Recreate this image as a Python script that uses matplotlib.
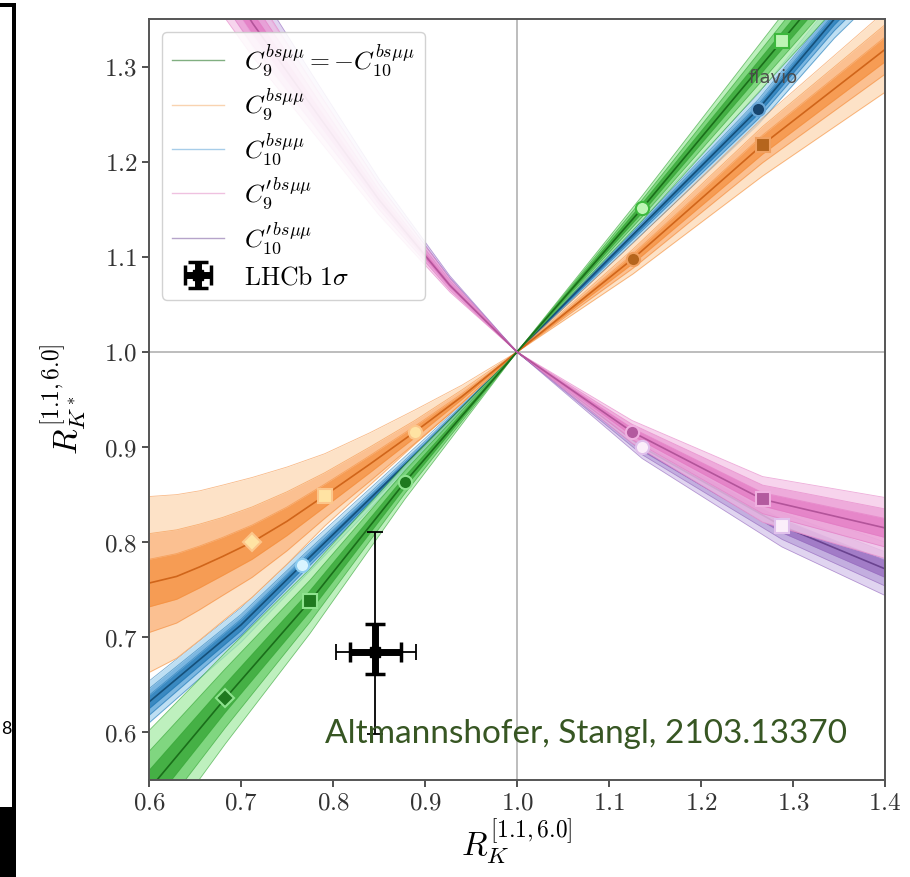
import matplotlib
matplotlib.use('Agg')
import matplotlib.pyplot as plt
from matplotlib.lines import Line2D
from matplotlib.patches import Rectangle
import numpy as np

plt.rcParams['mathtext.fontset'] = 'cm'
plt.rcParams['font.family'] = 'serif'
plt.rcParams['font.serif'] = ['DejaVu Serif']

# --- scenario curves: x = R_K, y = R_K*, band half widths ---
# C9 = -C10 (green)
g_x = [0.56, 0.60, 0.683, 0.775, 0.878, 1.00, 1.136, 1.288, 1.36]
g_y = [0.49, 0.54, 0.636, 0.738, 0.863, 1.00, 1.151, 1.327, 1.41]
g_w3 = [0.070, 0.062, 0.048, 0.034, 0.018, 0.0, 0.013, 0.027, 0.034]
g_w2 = [0.045, 0.040, 0.031, 0.022, 0.012, 0.0, 0.009, 0.018, 0.022]
g_w1 = [0.022, 0.020, 0.015, 0.011, 0.006, 0.0, 0.005, 0.009, 0.011]

# C9 (orange)
o_x = [0.60, 0.63, 0.655, 0.68, 0.712, 0.75, 0.791, 0.84, 0.889, 0.94, 1.00, 1.126, 1.267, 1.40]
o_y = [0.757, 0.764, 0.774, 0.785, 0.800, 0.822, 0.849, 0.882, 0.916, 0.953, 1.00, 1.098, 1.218, 1.318]
o_up3 = [0.091, 0.086, 0.080, 0.075, 0.068, 0.057, 0.044, 0.033, 0.023, 0.012, 0.0, 0.016, 0.028, 0.040]
o_lo3 = [0.094, 0.086, 0.077, 0.068, 0.058, 0.045, 0.032, 0.022, 0.013, 0.007, 0.0, 0.016, 0.033, 0.045]
o_w2 = [0.052, 0.049, 0.045, 0.041, 0.037, 0.031, 0.024, 0.018, 0.012, 0.007, 0.0, 0.010, 0.019, 0.026]
o_w1 = [0.025, 0.024, 0.022, 0.020, 0.018, 0.015, 0.012, 0.009, 0.006, 0.003, 0.0, 0.005, 0.010, 0.013]

# C10 (blue)
b_x = [0.60, 0.70, 0.766, 0.90, 1.00, 1.10, 1.262, 1.345, 1.40]
b_y = [0.632, 0.713, 0.776, 0.902, 1.00, 1.098, 1.255, 1.35, 1.405]
b_w3 = [0.022, 0.018, 0.015, 0.007, 0.0, 0.007, 0.016, 0.020, 0.023]
b_w2 = [0.014, 0.011, 0.009, 0.004, 0.0, 0.004, 0.010, 0.012, 0.014]
b_w1 = [0.007, 0.006, 0.005, 0.002, 0.0, 0.002, 0.005, 0.006, 0.007]

# C9' (pink)
p_x = [0.65, 0.713, 0.783, 0.85, 0.927, 1.00, 1.125, 1.267, 1.40]
p_y = [1.44, 1.345, 1.25, 1.16, 1.07, 1.00, 0.916, 0.845, 0.815]
p_w3 = [0.045, 0.035, 0.025, 0.016, 0.007, 0.0, 0.012, 0.024, 0.032]
p_w2 = [0.030, 0.023, 0.016, 0.010, 0.005, 0.0, 0.008, 0.015, 0.020]
p_w1 = [0.015, 0.011, 0.008, 0.005, 0.002, 0.0, 0.004, 0.007, 0.010]

# C10' (purple)
v_x = [0.65, 0.713, 0.783, 0.85, 0.927, 1.00, 1.136, 1.288, 1.40]
v_y = [1.46, 1.355, 1.258, 1.166, 1.073, 1.00, 0.900, 0.817, 0.772]
v_w3 = [0.045, 0.035, 0.025, 0.016, 0.007, 0.0, 0.012, 0.022, 0.028]
v_w2 = [0.030, 0.023, 0.016, 0.010, 0.005, 0.0, 0.008, 0.014, 0.018]
v_w1 = [0.015, 0.011, 0.008, 0.005, 0.002, 0.0, 0.004, 0.007, 0.009]

# benchmark markers on the curves
g_mx = [0.683, 0.775, 0.878, 1.136, 1.288]
g_my = [0.636, 0.738, 0.863, 1.151, 1.327]
g_mk = ['D', 's', 'o', 'o', 's']
g_dark = [1, 1, 1, 0, 0]

o_mx = [0.712, 0.791, 0.889, 1.126, 1.267]
o_my = [0.800, 0.849, 0.916, 1.098, 1.218]
o_mk = ['D', 's', 'o', 'o', 's']
o_dark = [0, 0, 0, 1, 1]

b_mx = [0.766, 1.262]
b_my = [0.776, 1.255]
b_mk = ['o', 'o']
b_dark = [0, 1]

p_mx = [1.125, 1.267]
p_my = [0.916, 0.845]
p_mk = ['o', 's']
p_dark = [1, 1]

v_mx = [1.136, 1.288]
v_my = [0.900, 0.817]
v_mk = ['o', 's']
v_dark = [0, 0]

# LHCb measurement
lhcb_x = 0.846
lhcb_y = 0.685
lhcb_xerr_tot = [0.043, 0.044]
lhcb_yerr_tot = [0.087, 0.126]
lhcb_xerr_in = [0.028, 0.028]
lhcb_yerr_in = [0.024, 0.029]

labels = [r"$C_9^{bs\mu\mu}=-C_{10}^{bs\mu\mu}$", r"$C_9^{bs\mu\mu}$",
          r"$C_{10}^{bs\mu\mu}$", r"$C_9^{\prime\,bs\mu\mu}$",
          r"$C_{10}^{\prime\,bs\mu\mu}$"]
x_ticks = [0.6, 0.7, 0.8, 0.9, 1.0, 1.1, 1.2, 1.3, 1.4]
y_ticks = [0.6, 0.7, 0.8, 0.9, 1.0, 1.1, 1.2, 1.3]

fig = plt.figure(figsize=(9.1, 8.77), dpi=100)
ax = fig.add_axes([149/910, 1-780/877, 736/910, 761/877])

ax.axvline(1.0, color='#b8b8b8', lw=1.3, zorder=0.5)
ax.axhline(1.0, color='#b8b8b8', lw=1.3, zorder=0.5)


def draw_band(x, y, lo3, hi3, w2, w1, cols, lcol, z):
    x = np.array(x)
    y = np.array(y)
    ax.fill_between(x, y - np.array(lo3), y + np.array(hi3), color=cols[0], alpha=0.75, lw=0, zorder=z)
    ax.fill_between(x, y - np.array(w2), y + np.array(w2), color=cols[1], alpha=0.7, lw=0, zorder=z)
    ax.fill_between(x, y - np.array(w1), y + np.array(w1), color=cols[2], alpha=0.7, lw=0, zorder=z)
    for lo, hi in [(lo3, hi3), (w2, w2), (w1, w1)]:
        ax.plot(x, y - np.array(lo), color=cols[2], lw=0.6, alpha=0.6, zorder=z)
        ax.plot(x, y + np.array(hi), color=cols[2], lw=0.6, alpha=0.6, zorder=z)
    ax.plot(x, y, color=lcol, lw=1.2, zorder=z)


def draw_markers(mx, my, mk, dark, dcol, lcol, z):
    for xx, yy, m, d in zip(mx, my, mk, dark):
        if d:
            ax.plot(xx, yy, marker=m, ms=9.5, mfc=dcol[0], mec=dcol[1], mew=1.5, zorder=z)
        else:
            ax.plot(xx, yy, marker=m, ms=9.5, mfc=lcol[0], mec=lcol[1], mew=1.5, zorder=z)


blue_c = ['#a9d5f0', '#5fa5d8', '#1f77b4']
orange_c = ['#fdd9b5', '#fbb27a', '#f58d3a']
green_c = ['#a8eca8', '#66cc66', '#2ca02c']
pink_c = ['#f5c6e8', '#eb9ad4', '#e377c2']
purple_c = ['#d6c6ec', '#b79ed8', '#9467bd']

draw_band(b_x, b_y, b_w3, b_w3, b_w2, b_w1, blue_c, '#15507a', 1.0)
draw_band(o_x, o_y, o_lo3, o_up3, o_w2, o_w1, orange_c, '#d0651a', 1.1)
draw_band(g_x, g_y, g_w3, g_w3, g_w2, g_w1, green_c, '#1a6e1a', 1.2)
draw_band(v_x, v_y, v_w3, v_w3, v_w2, v_w1, purple_c, '#6a4390', 1.3)
draw_band(p_x, p_y, p_w3, p_w3, p_w2, p_w1, pink_c, '#b3549a', 1.4)

draw_markers(b_mx, b_my, b_mk, b_dark, ['#17456e', '#6aa8d8'], ['#d8f4ff', '#8ccbef'], 3)
draw_markers(o_mx, o_my, o_mk, o_dark, ['#b5651d', '#f0a060'], ['#ffe3a3', '#fcc58a'], 3)
draw_markers(g_mx, g_my, g_mk, g_dark, ['#1f7a1f', '#8fe38f'], ['#bdf5b4', '#3cb83c'], 3)
draw_markers(v_mx, v_my, v_mk, v_dark, ['#6a4390', '#c8b0e0'], ['#fbeefa', '#e0c0ec'], 3)
draw_markers(p_mx, p_my, p_mk, p_dark, ['#b35a9f', '#f0b0e0'], ['#fbeefa', '#f0b0e0'], 3)

e1 = ax.errorbar(lhcb_x, lhcb_y, xerr=[[lhcb_xerr_tot[0]], [lhcb_xerr_tot[1]]],
                 yerr=[[lhcb_yerr_tot[0]], [lhcb_yerr_tot[1]]], fmt='none', ecolor='k',
                 elinewidth=1.3, capsize=6, capthick=1.3, zorder=6)
e2 = ax.errorbar(lhcb_x, lhcb_y, xerr=[[lhcb_xerr_in[0]], [lhcb_xerr_in[1]]],
                 yerr=[[lhcb_yerr_in[0]], [lhcb_yerr_in[1]]], fmt='s', color='k', ms=7,
                 elinewidth=5, capsize=7, capthick=2.5, zorder=7)

ax.set_xlim(0.6, 1.4)
ax.set_ylim(0.55, 1.35)
ax.set_xticks(x_ticks)
ax.set_xticklabels(["$%.1f$" % t for t in x_ticks])
ax.set_yticks(y_ticks)
ax.set_yticklabels(["$%.1f$" % t for t in y_ticks])
ax.tick_params(labelsize=18, colors='#333333', length=5, width=1.2, direction='out')
for s in ax.spines.values():
    s.set_color('#555555')
    s.set_linewidth(1.4)

ax.set_xlabel(r"$R_K^{[1.1,6.0]}$", fontsize=24, labelpad=2)
ax.set_ylabel(r"$R_{K^*}^{[1.1,6.0]}$", fontsize=24, labelpad=10)

handles = [Line2D([], [], color=c, lw=1, alpha=0.55)
           for c in ['#1a6e1a', '#f5b070', '#5fa5d8', '#e38fc8', '#7a5aa0']]
handles.append((e1, e2))
leg = ax.legend(handles, labels + [r"$\mathrm{LHCb}\ 1\sigma$"], loc='upper left',
                fontsize=18.5, framealpha=0.88, labelspacing=0.3, handlelength=2.0)
leg.set_zorder(8)

ax.text(0.848, 0.922, "flavio", transform=ax.transAxes, ha='center', va='center',
        fontsize=13, color='#4d4d4d', family='DejaVu Sans', zorder=9)

fig.text(325/910, 1-743/877, "Altmannshofer, Stangl, 2103.13370", ha='left', va='baseline',
         fontsize=24, color='#375623', family='Lato')

# slide edge decorations
fig.add_artist(Rectangle((0, 1-7/877), 16/910, 4/877, transform=fig.transFigure, color='k', lw=0))
fig.add_artist(Rectangle((12/910, 1-807/877), 4/910, 804/877, transform=fig.transFigure, color='k', lw=0))
fig.add_artist(Rectangle((0, 0), 16/910, 70/877, transform=fig.transFigure, color='k', lw=0))
fig.text(1/910, 1-729/877, "8", ha='left', va='center', fontsize=13, color='k', family='Lato')

fig.savefig('out.png', dpi=100, facecolor='white')
